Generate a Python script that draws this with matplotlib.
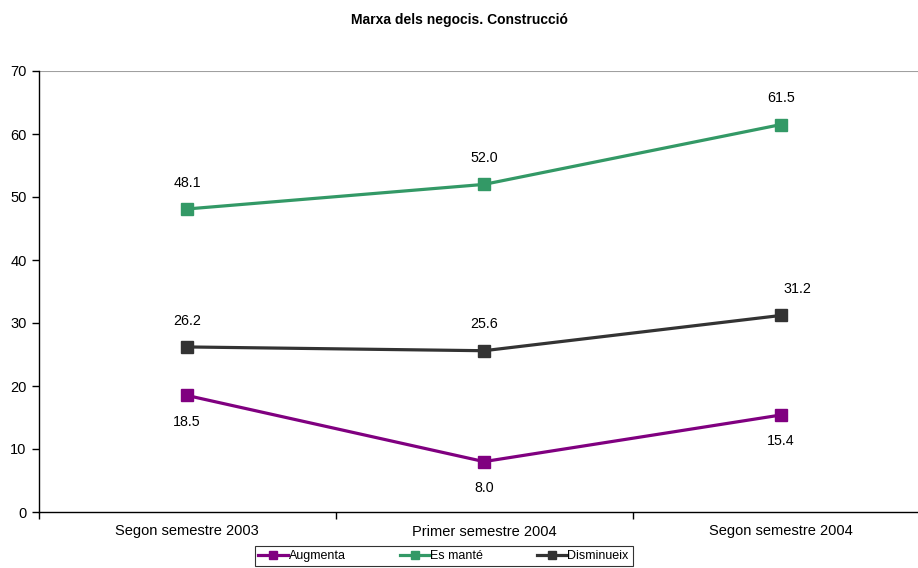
import numpy as np
import matplotlib.pyplot as plt

plt.rcParams['font.family'] = ['Liberation Sans', 'DejaVu Sans']

categories = ['Segon semestre 2003', 'Primer semestre 2004', 'Segon semestre 2004']
augmenta = [18.5, 8.0, 15.4]
es_mante = [48.1, 52.0, 61.5]
disminueix = [26.2, 25.6, 31.2]

series = [
    ('Augmenta', augmenta, '#800080', -1),
    ('Es manté', es_mante, '#339966', 1),
    ('Disminueix', disminueix, '#333333', 1),
]

fig = plt.figure(figsize=(9.18, 5.68), dpi=100)
ax = fig.add_axes([38.5 / 918, 56 / 568, 891 / 918, 441 / 568])

x = np.arange(len(categories))
handles = []
for name, vals, col, side in series:
    h, = ax.plot(x, vals, color=col, lw=2.3, marker='s', ms=8.5, label=name)
    handles.append(h)
    for xi, v in zip(x, vals):
        dx = 12 if (name == 'Disminueix' and xi == 2) else 0
        ax.annotate(f'{v:.1f}', (xi, v), xytext=(dx, 19 * side), textcoords='offset points',
                    ha='center', va='center', fontsize=10.3)

ax.set_xlim(-0.5, 2.5)
ax.set_ylim(0, 70)
ax.set_yticks(range(0, 71, 10))
ax.set_xticks(x)
ax.set_xticklabels(categories)
ax.set_xticks([-0.5, 0.5, 1.5], minor=True)
ax.tick_params(axis='x', which='major', length=0, pad=9, labelsize=10.5)
ax.tick_params(axis='x', which='minor', length=5, width=1)
ax.tick_params(axis='y', length=5, width=1, labelsize=10.5)
ax.axhline(70, color='#a0a0a0', lw=1.5)
for s in ['top', 'right']:
    ax.spines[s].set_visible(False)
ax.spines['left'].set_linewidth(1)
ax.spines['bottom'].set_linewidth(1)

fig.text(0.5, 1 - 20 / 568, 'Marxa dels negocis. Construcció', ha='center', va='center',
         fontsize=10, fontweight='bold')

leg = fig.legend(handles=handles, ncol=3, loc='center', bbox_to_anchor=(443.5 / 918, 1 - 556 / 568),
                 fontsize=9, frameon=True, fancybox=False, edgecolor='black', handlelength=2.4,
                 columnspacing=4.3, borderpad=0.3, handletextpad=0.05, markerscale=0.7)
leg.get_frame().set_linewidth(0.8)

fig.savefig('out.png', dpi=100)
